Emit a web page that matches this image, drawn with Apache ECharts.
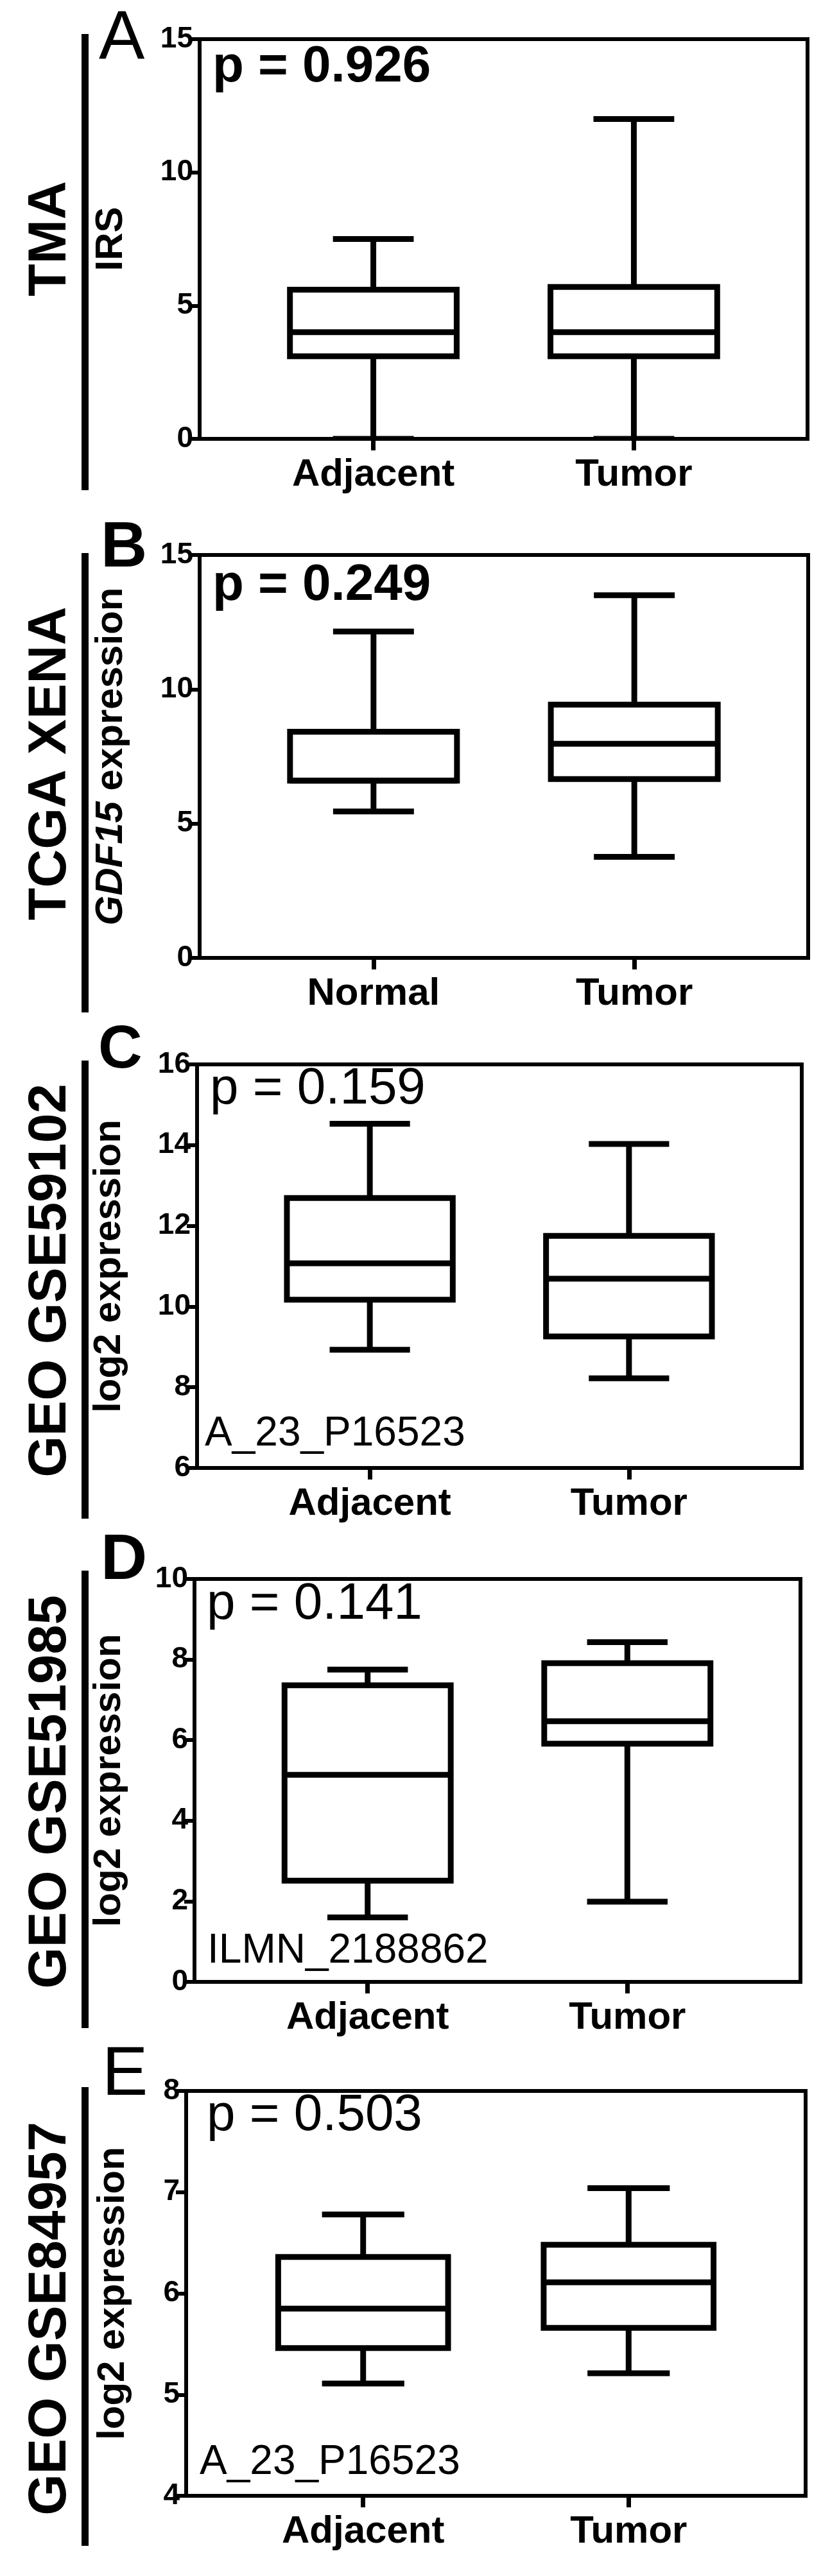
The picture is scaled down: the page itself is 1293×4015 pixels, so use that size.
<!DOCTYPE html>
<html>
<head>
<meta charset="utf-8">
<script src="https://cdn.jsdelivr.net/npm/echarts@6/dist/echarts.min.js"></script>
<style>
  html, body { margin: 0; padding: 0; background: #fff; }
  #main { width: 1293px; height: 4015px; }
</style>
</head>
<body>
<div id="main"></div>
<script>
// values
var panelLetters = ['A', 'B', 'C', 'D', 'E'];
var datasetNames = ['TMA', 'TCGA XENA', 'GEO GSE59102', 'GEO GSE51985', 'GEO GSE84957'];
var yTitles = ['IRS', '{i|GDF15} expression', 'log2 expression', 'log2 expression', 'log2 expression'];
var pValues = ['p = 0.926', 'p = 0.249', 'p = 0.159', 'p = 0.141', 'p = 0.503'];
var probeIds = ['', '', 'A_23_P16523', 'ILMN_2188862', 'A_23_P16523'];
var groupNames = [
    ['Adjacent', 'Tumor'],
    ['Normal', 'Tumor'],
    ['Adjacent', 'Tumor'],
    ['Adjacent', 'Tumor'],
    ['Adjacent', 'Tumor']
];
// each box: min, Q1, median, Q3, max
var boxTMA = [[0, 3.1, 4, 5.6, 7.5], [0, 3.1, 4, 5.7, 12]];
var boxXena = [[5.45, 6.6, 6.6, 8.42, 12.15], [3.76, 6.66, 7.97, 9.43, 13.5]];
var boxGSE59102 = [[8.93, 10.17, 11.07, 12.69, 14.53], [8.22, 9.26, 10.69, 11.75, 14.03]];
var boxGSE51985 = [[1.6, 2.51, 5.14, 7.36, 7.75], [1.99, 5.91, 6.47, 7.91, 8.43]];
var boxGSE84957 = [[5.11, 5.46, 5.85, 6.36, 6.78], [5.21, 5.66, 6.11, 6.48, 7.04]];
var yMin = [0, 0, 6, 0, 4];
var yMax = [15, 15, 16, 10, 8];
var yStep = [5, 5, 2, 2, 1];

var allBoxes = [boxTMA, boxXena, boxGSE59102, boxGSE51985, boxGSE84957];

// page layout (pixels)
var layout = [
    { left: 311, top: 61,   right: 1258, bottom: 684,  bar: [53, 764],    nameY: 372,  letter: [154, 100],  pText: [331, 133],  probe: null,        titleX: 203 },
    { left: 311, top: 865,  right: 1259, bottom: 1493, bar: [862, 1578],  nameY: 1190, letter: [157, 890],  pText: [331, 941],  probe: null,        titleX: 203 },
    { left: 307, top: 1659, right: 1249, bottom: 2288, bar: [1653, 2367], nameY: 1996, letter: [153, 1671], pText: [327, 1726], probe: [319, 2258], titleX: 200 },
    { left: 303, top: 2461, right: 1247, bottom: 3089, bar: [2448, 3161], nameY: 2793, letter: [157, 2468], pText: [322, 2529], probe: [323, 3064], titleX: 200 },
    { left: 290, top: 3259, right: 1255, bottom: 3890, bar: [3253, 3968], nameY: 3614, letter: [159, 3273], pText: [322, 3326], probe: [311, 3861], titleX: 206 }
];
var letterBold = [false, true, true, true, false];
var letterSize = [107, 100, 95, 100, 107];
var pBold = [true, true, false, false, false];

var FONT = '"Liberation Sans", Arial, Helvetica, sans-serif';
var BOX_HALF = 0.32, CAP_HALF = 0.155, LW = 9;

function renderBox(params, api) {
    var x = api.value(0);
    var yLo = api.coord([x, api.value(1)])[1];
    var yQ1 = api.coord([x, api.value(2)])[1];
    var yMed = api.coord([x, api.value(3)])[1];
    var yQ3 = api.coord([x, api.value(4)])[1];
    var yHi = api.coord([x, api.value(5)])[1];
    var cx = api.coord([x, api.value(3)])[0];
    var bl = api.coord([x - BOX_HALF, api.value(3)])[0];
    var br = api.coord([x + BOX_HALF, api.value(3)])[0];
    var cl = api.coord([x - CAP_HALF, api.value(3)])[0];
    var cr = api.coord([x + CAP_HALF, api.value(3)])[0];
    var st = { stroke: '#000', lineWidth: LW, fill: null };
    return {
        type: 'group',
        children: [
            { type: 'line', shape: { x1: cx, y1: yHi, x2: cx, y2: yQ3 }, style: st },
            { type: 'line', shape: { x1: cx, y1: yQ1, x2: cx, y2: yLo }, style: st },
            { type: 'line', shape: { x1: cl, y1: yHi, x2: cr, y2: yHi }, style: st },
            { type: 'line', shape: { x1: cl, y1: yLo, x2: cr, y2: yLo }, style: st },
            { type: 'rect', shape: { x: bl, y: yQ3, width: br - bl, height: yQ1 - yQ3 },
              style: { stroke: '#000', lineWidth: LW, fill: '#fff' } },
            { type: 'line', shape: { x1: bl, y1: yMed, x2: br, y2: yMed }, style: st }
        ]
    };
}

var grids = [], xAxes = [], yAxes = [], series = [], graphics = [];

layout.forEach(function (L, i) {
    grids.push({
        left: L.left, top: L.top,
        width: L.right - L.left, height: L.bottom - L.top,
        show: true, borderColor: '#000', borderWidth: 6,
        backgroundColor: 'transparent',
        containLabel: false, outerBoundsMode: 'none'
    });
    var names = groupNames[i];
    xAxes.push({
        type: 'value', gridIndex: i,
        min: 1 / 3, max: 8 / 3,
        splitLine: { show: false },
        axisLine: { show: true, lineStyle: { color: '#000', width: 6 } },
        axisTick: { show: true, customValues: [1, 2], length: 18, lineStyle: { color: '#000', width: 7 } },
        axisLabel: {
            show: true, customValues: [1, 2], margin: 26,
            color: '#000', fontFamily: FONT, fontWeight: 'bold', fontSize: 60,
            formatter: function (v) { return names[Math.round(v) - 1] || ''; }
        }
    });
    yAxes.push({
        type: 'value', gridIndex: i,
        min: yMin[i], max: yMax[i], interval: yStep[i],
        splitLine: { show: false },
        axisLine: { show: true, lineStyle: { color: '#000', width: 6 } },
        axisTick: { show: true, length: 16, lineStyle: { color: '#000', width: 6 } },
        axisLabel: { color: '#000', fontFamily: FONT, fontWeight: 'bold', fontSize: 46, margin: 10 },
        name: yTitles[i],
        nameLocation: 'middle',
        nameGap: L.left - L.titleX,
        nameTextStyle: {
            color: '#000', fontFamily: FONT, fontWeight: 'bold', fontSize: 60,
            rich: { i: { fontStyle: 'italic', fontWeight: 'bold', fontSize: 60, fontFamily: FONT, color: '#000' } }
        }
    });
    var rows = allBoxes[i].map(function (b, k) {
        return [k + 1].concat(b);
    });
    series.push({
        type: 'custom', xAxisIndex: i, yAxisIndex: i,
        clip: true,
        renderItem: renderBox,
        encode: { x: 0, y: [1, 2, 3, 4, 5] },
        data: rows
    });

    // side bar and dataset name
    graphics.push({
        type: 'rect', left: 127, top: L.bar[0],
        shape: { width: 11, height: L.bar[1] - L.bar[0] },
        style: { fill: '#000' }
    });
    graphics.push({
        type: 'text', x: 79, y: L.nameY, rotation: Math.PI / 2,
        style: {
            text: datasetNames[i], fill: '#000', align: 'center', verticalAlign: 'middle',
            font: 'bold 83px ' + FONT
        }
    });
    // panel letter
    graphics.push({
        type: 'text', x: L.letter[0], y: L.letter[1] - 0.35 * letterSize[i],
        style: {
            text: panelLetters[i], fill: '#000', align: 'left', verticalAlign: 'middle',
            font: (letterBold[i] ? 'bold ' : '') + letterSize[i] + 'px ' + FONT
        }
    });
    // p value
    graphics.push({
        type: 'text', x: L.pText[0], y: L.pText[1] - 0.35 * 80,
        style: {
            text: pValues[i], fill: '#000', align: 'left', verticalAlign: 'middle',
            font: (pBold[i] ? 'bold ' : '') + '80px ' + FONT
        }
    });
    if (L.probe && probeIds[i]) {
        graphics.push({
            type: 'text', x: L.probe[0], y: L.probe[1] - 0.35 * 64,
            style: {
                text: probeIds[i], fill: '#000', align: 'left', verticalAlign: 'middle',
                font: '64px ' + FONT
            }
        });
    }
});

var chart = echarts.init(document.getElementById('main'), null, { renderer: 'canvas' });
chart.setOption({
    backgroundColor: '#fff',
    animation: false,
    grid: grids,
    xAxis: xAxes,
    yAxis: yAxes,
    series: series,
    graphic: graphics
});
</script>
</body>
</html>
